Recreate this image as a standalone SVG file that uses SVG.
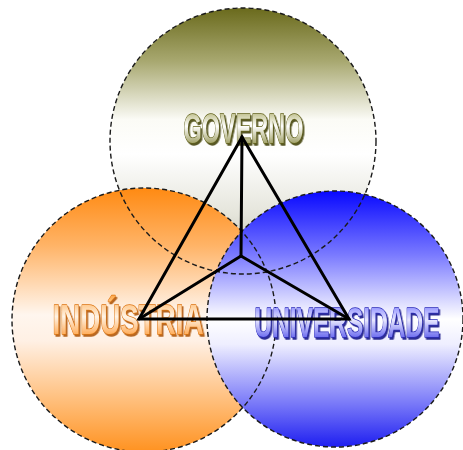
<svg xmlns="http://www.w3.org/2000/svg" width="463" height="450" viewBox="0 0 463 450">
  <defs>
    <linearGradient id="gGov" x1="0" y1="0" x2="0" y2="1">
      <stop offset="0" stop-color="#6a6a1c"/>
      <stop offset="0.2" stop-color="#a8a870"/>
      <stop offset="0.42" stop-color="#fbfbf6"/>
      <stop offset="0.55" stop-color="#ffffff"/>
      <stop offset="0.78" stop-color="#e4e4da"/>
      <stop offset="1" stop-color="#b4b4a2"/>
    </linearGradient>
    <linearGradient id="gInd" x1="0" y1="0" x2="0" y2="1">
      <stop offset="0" stop-color="#ff8a12"/>
      <stop offset="0.22" stop-color="#ffb468"/>
      <stop offset="0.48" stop-color="#fff6ee"/>
      <stop offset="0.58" stop-color="#fff0e4"/>
      <stop offset="0.82" stop-color="#ffbb74"/>
      <stop offset="1" stop-color="#ff9220"/>
    </linearGradient>
    <linearGradient id="gUni" x1="0" y1="0" x2="0" y2="1">
      <stop offset="0" stop-color="#0808ff"/>
      <stop offset="0.25" stop-color="#7a7aff"/>
      <stop offset="0.5" stop-color="#ffffff"/>
      <stop offset="0.6" stop-color="#eeeeff"/>
      <stop offset="0.84" stop-color="#7474f8"/>
      <stop offset="1" stop-color="#1e1ef0"/>
    </linearGradient>
    <linearGradient id="tGov" x1="0" y1="0" x2="0" y2="1">
      <stop offset="0" stop-color="#9a9a48"/>
      <stop offset="0.45" stop-color="#ffffff"/>
      <stop offset="1" stop-color="#74741e"/>
    </linearGradient>
    <linearGradient id="tInd" x1="0" y1="0" x2="0" y2="1">
      <stop offset="0" stop-color="#ffa848"/>
      <stop offset="0.45" stop-color="#fff4e6"/>
      <stop offset="1" stop-color="#ff8c1a"/>
    </linearGradient>
    <linearGradient id="tUni" x1="0" y1="0" x2="0" y2="1">
      <stop offset="0" stop-color="#6464ff"/>
      <stop offset="0.45" stop-color="#e8e8ff"/>
      <stop offset="1" stop-color="#3030e8"/>
    </linearGradient>
    <filter id="shGov" x="-10%" y="-20%" width="130%" height="150%">
      <feDropShadow dx="1.5" dy="2" stdDeviation="0.4" flood-color="#44440e" flood-opacity="0.9"/>
    </filter>
    <filter id="shInd" x="-10%" y="-20%" width="130%" height="150%">
      <feDropShadow dx="1.5" dy="2" stdDeviation="0.4" flood-color="#b05808" flood-opacity="0.9"/>
    </filter>
    <filter id="shUni" x="-10%" y="-20%" width="130%" height="150%">
      <feDropShadow dx="1.5" dy="2" stdDeviation="0.4" flood-color="#141488" flood-opacity="0.9"/>
    </filter>
  </defs>
  <style>
    .ring { fill: none; stroke: #1a1a1a; stroke-width: 1.4; stroke-dasharray: 5 3; }
    .lbl { font-family: "Liberation Sans Narrow", "Liberation Sans", Arial, sans-serif; font-weight: bold; font-size: 42px; stroke-width: 1.4; paint-order: stroke fill; stroke-linejoin: round; }
    .edge { stroke: #000; stroke-width: 3; fill: none; stroke-linejoin: miter; stroke-linecap: round; }
  </style>
  <rect width="463" height="450" fill="#ffffff"/>
  <g id="fills">
    <circle cx="243" cy="141" r="133" fill="url(#gGov)"/>
    <circle cx="144" cy="320" r="132" fill="url(#gInd)"/>
    <circle cx="335" cy="319" r="128" fill="url(#gUni)"/>
  </g>
  <g id="governo">
    <circle class="ring" cx="243" cy="141" r="133"/>
    <text class="lbl" x="183.5" y="143" textLength="120" lengthAdjust="spacingAndGlyphs" fill="url(#tGov)" stroke="#62621a" filter="url(#shGov)">GOVERNO</text>
  </g>
  <g id="industria">
    <circle class="ring" cx="144" cy="320" r="132"/>
    <text class="lbl" x="52.5" y="334" textLength="151" lengthAdjust="spacingAndGlyphs" fill="url(#tInd)" stroke="#dc7412" filter="url(#shInd)">INDÚSTRIA</text>
  </g>
  <g id="universidade">
    <circle class="ring" cx="335" cy="319" r="128"/>
    <text class="lbl" x="254.5" y="337" textLength="185" lengthAdjust="spacingAndGlyphs" fill="url(#tUni)" stroke="#2a2ab8" filter="url(#shUni)">UNIVERSIDADE</text>
  </g>
  <g id="connectors">
    <path class="edge" d="M242 137 L139 319 L349 319 Z"/>
    <path class="edge" d="M242 137 L241 256"/>
    <path class="edge" d="M241 256 L139 319"/>
    <path class="edge" d="M241 256 L349 319"/>
  </g>
</svg>
